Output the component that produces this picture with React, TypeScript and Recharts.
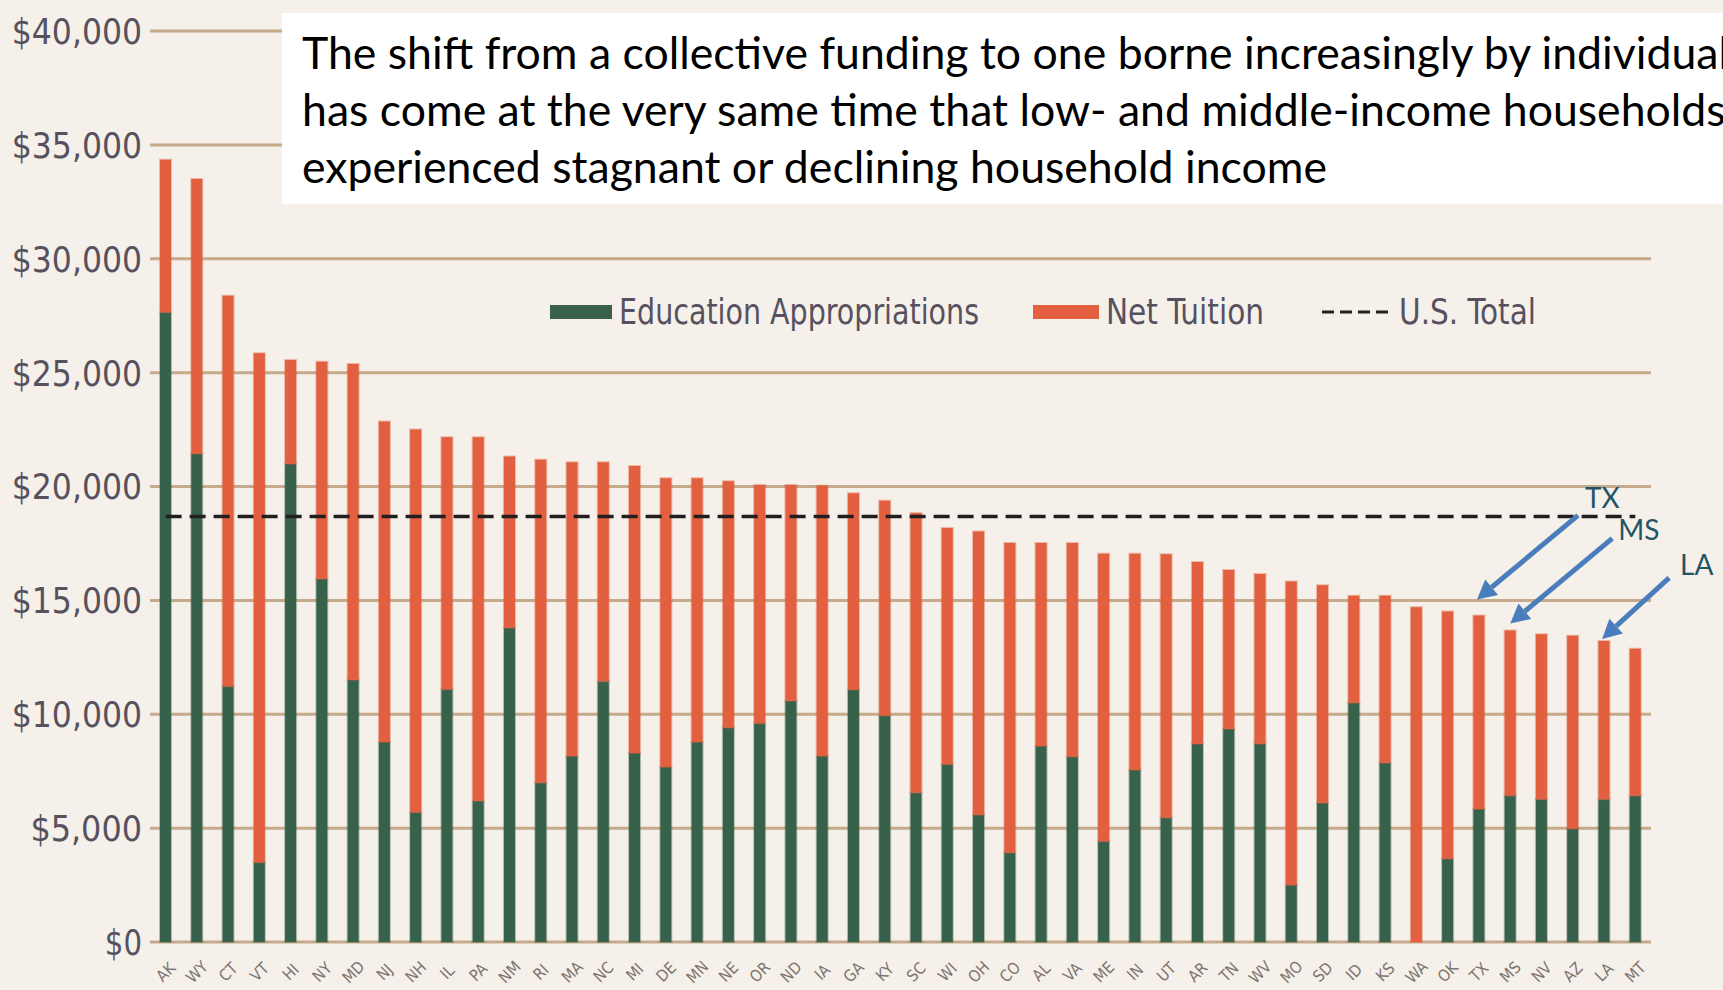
import { BarChart, Bar, XAxis, YAxis, CartesianGrid, Legend, ReferenceLine, ReferenceDot } from 'recharts';

// states in chart order (axis labels are unreadable in the source, so these are a best guess;
// TX, MS and LA sit where the callouts point)
const states = [
  'AK', 'WY', 'CT', 'VT', 'HI', 'NY', 'MD', 'NJ', 'NH', 'IL', 'PA', 'NM',
  'RI', 'MA', 'NC', 'MI', 'DE', 'MN', 'NE', 'OR', 'ND', 'IA', 'GA', 'KY',
  'SC', 'WI', 'OH', 'CO', 'AL', 'VA', 'ME', 'IN', 'UT', 'AR', 'TN', 'WV',
  'MO', 'SD', 'ID', 'KS', 'WA', 'OK', 'TX', 'MS', 'NV', 'AZ', 'LA', 'MT',
];

// education appropriations per FTE ($)
const appropriations = [
  27650, 21450, 11230, 3500, 21000, 15950, 11520, 8780, 5700, 11100, 6200, 13800,
  7000, 8170, 11450, 8300, 7680, 8780, 9420, 9610, 10590, 8170, 11090, 9940,
  6560, 7810, 5590, 3930, 8610, 8150, 4420, 7560, 5470, 8700, 9360, 8700,
  2500, 6110, 10510, 7870, 0, 3660, 5840, 6430, 6270, 4980, 6270, 6430,
];

// net tuition per FTE ($)
const netTuition = [
  6700, 12050, 17150, 22350, 4550, 9530, 13860, 14070, 16800, 11060, 15960, 7520,
  14170, 12900, 9620, 12600, 12680, 11580, 10810, 10460, 9480, 11860, 8610, 9430,
  12280, 10370, 12430, 13590, 8910, 9370, 12630, 9490, 11550, 7990, 6970, 7460,
  13330, 9550, 4690, 7330, 14700, 10850, 8500, 7250, 7240, 8470, 6950, 6450,
];

const usTotal = 18680;
const yTicks = [0, 5000, 10000, 15000, 20000, 25000, 30000, 35000, 40000];

const data = states.map((state, i) => ({
  state,
  approp: appropriations[i],
  tuition: netTuition[i],
  total: appropriations[i] + netTuition[i],
}));

const GREEN = '#37614a';
const ORANGE = '#e25f3f';
const GRID = '#c5aa8b';
const BG = '#f5f0e9';
const LABEL = '#57515f';
const NARROW = "'DejaVu Sans Condensed', 'DejaVu Sans', sans-serif";

// callout arrows: offsets (px) from the top of the bar they point at
const callouts = [
  { state: 'TX', tip: [-2, -16], tail: [101, -84], label: [108, -91] },
  { state: 'MS', tip: [0, -7], tail: [102, -85], label: [108, -83] },
  { state: 'LA', tip: [-2, -2], tail: [67, -61], label: [78, -64] },
];

function YTick(props: any) {
  const { x, y, payload } = props;
  const label = '$' + payload.value.toLocaleString('en-US');
  return (
    <text x={x} y={y} dy="0.36em" textAnchor="end" fill={LABEL}
      fontFamily={NARROW} fontSize={36} textLength={label.length * 18.6} lengthAdjust="spacingAndGlyphs">
      {label}
    </text>
  );
}

function XTick(props: any) {
  const { x, y, payload } = props;
  const cy = y + 22;
  return (
    <text x={x} y={cy} dy="0.35em" textAnchor="middle" fill="#7d7470"
      fontFamily={NARROW} fontSize={16} transform={`rotate(-45, ${x}, ${cy})`}>
      {payload.value}
    </text>
  );
}

function makeArrow(c: typeof callouts[number]) {
  return (props: any) => {
    const { cx, cy } = props;
    if (cx == null || cy == null) return <g />;
    const tx = cx + c.tip[0];
    const ty = cy + c.tip[1];
    const sx = tx + c.tail[0];
    const sy = ty + c.tail[1];
    const len = Math.hypot(tx - sx, ty - sy);
    const ux = (tx - sx) / len;
    const uy = (ty - sy) / len;
    const bx = tx - ux * 19;
    const by = ty - uy * 19;
    const nx = -uy;
    const ny = ux;
    return (
      <g>
        <line x1={sx} y1={sy} x2={bx} y2={by} stroke="#4a7dbb" strokeWidth={5} />
        <polygon
          points={`${tx},${ty} ${bx + nx * 10},${by + ny * 10} ${bx - nx * 10},${by - ny * 10}`}
          fill="#4a7dbb" />
        <text x={tx + c.label[0]} y={ty + c.label[1]} fill="#1f5566"
          fontFamily="Lato, 'Open Sans', sans-serif" fontSize={28}>
          {c.state}
        </text>
      </g>
    );
  };
}

// squeezed legend label, to mimic the condensed face of the original
function LegendText({ label, width }: { label: string; width: number }) {
  return (
    <svg width={width + 4} height={48} style={{ display: 'block', overflow: 'visible' }}>
      <text x={0} y={33} fill={LABEL} fontFamily={NARROW} fontSize={36}
        textLength={width} lengthAdjust="spacingAndGlyphs">
        {label}
      </text>
    </svg>
  );
}

function renderLegend() {
  const item = { position: 'absolute' as const, top: 0, display: 'flex', alignItems: 'center' };
  return (
    <div style={{ position: 'relative', height: 48 }}>
      <div style={{ ...item, left: 0 }}>
        <span style={{ width: 62, height: 14, background: GREEN, marginRight: 7, marginTop: -6 }} />
        <LegendText label="Education Appropriations" width={360} />
      </div>
      <div style={{ ...item, left: 483 }}>
        <span style={{ width: 66, height: 14, background: ORANGE, marginRight: 7, marginTop: -6 }} />
        <LegendText label="Net Tuition" width={158} />
      </div>
      <div style={{ ...item, left: 772 }}>
        <svg width={68} height={14} style={{ marginRight: 9, marginTop: -6, display: 'block' }}>
          <line x1={0} y1={7} x2={68} y2={7} stroke="#231f20" strokeWidth={3} strokeDasharray="12 6" />
        </svg>
        <LegendText label="U.S. Total" width={137} />
      </div>
    </div>
  );
}

export default function App() {
  return (
    <div style={{ position: 'fixed', left: 0, top: 0, width: 1723, height: 990, background: BG, overflow: 'hidden' }}>
      <BarChart width={1723} height={990} data={data}
        margin={{ top: 31, right: 72, bottom: 0, left: 0 }} barCategoryGap={0}>
        <CartesianGrid vertical={false} stroke={GRID} strokeWidth={3} />
        <XAxis dataKey="state" interval={0} height={48} tickLine={false} axisLine={false} tick={<XTick />} />
        <YAxis width={150} domain={[0, 40000]} ticks={yTicks} tickLine={false} axisLine={false} tick={<YTick />} />
        <Legend layout="horizontal" verticalAlign="middle" align="center" content={renderLegend}
          wrapperStyle={{ left: 550, top: 291, width: 1000, height: 48 }} />
        <Bar dataKey="approp" name="Education Appropriations" stackId="a" fill={GREEN} barSize={11}
          stroke={GREEN} strokeOpacity={0.35} strokeWidth={2} isAnimationActive={false} />
        <Bar dataKey="tuition" name="Net Tuition" stackId="a" fill={ORANGE} barSize={11}
          stroke={ORANGE} strokeOpacity={0.4} strokeWidth={2} isAnimationActive={false} />
        <ReferenceLine
          segment={[{ x: states[0], y: usTotal }, { x: states[states.length - 1], y: usTotal }]}
          stroke="#231f20" strokeWidth={3.5} strokeDasharray="16 8" ifOverflow="visible" />
        {callouts.map((c) => {
          const i = states.indexOf(c.state);
          return (
            <ReferenceDot key={c.state} x={c.state} y={appropriations[i] + netTuition[i]}
              r={0} ifOverflow="visible" shape={makeArrow(c)} />
          );
        })}
      </BarChart>
      <div style={{
        position: 'absolute', left: 282, top: 13, width: 1441, height: 191, background: '#fff',
        paddingLeft: 20, paddingTop: 10, boxSizing: 'border-box', whiteSpace: 'nowrap', overflow: 'hidden',
        fontFamily: "Lato, 'Open Sans', sans-serif", fontSize: 44.6, lineHeight: '57px', color: '#000',
      }}>
        <div>The shift from a collective funding to one borne increasingly by individuals</div>
        <div>has come at the very same time that low- and middle-income households have</div>
        <div>experienced stagnant or declining household income</div>
      </div>
    </div>
  );
}
